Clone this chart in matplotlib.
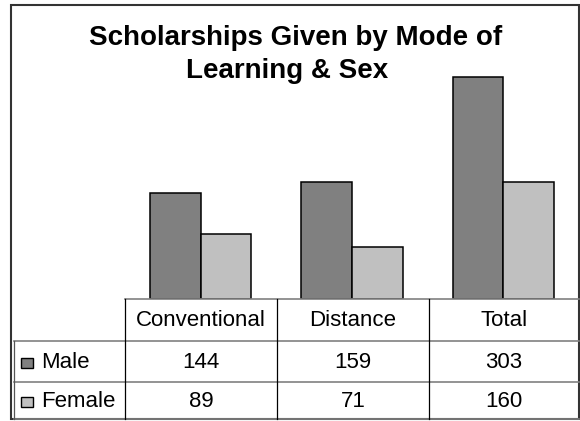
import matplotlib.pyplot as plt
from matplotlib.patches import Rectangle

plt.rcParams.update({
    "font.family": ["Liberation Sans", "DejaVu Sans"],
})

categories = ["Conventional", "Distance", "Total"]
series = ["Male", "Female"]
male = [144, 159, 303]
female = [89, 71, 160]
colors = ["#808080", "#C0C0C0"]

W, H = 580, 421
fig = plt.figure(figsize=(W / 100, H / 100), dpi=100)

# pixel layout
plot_l, plot_r = 125, 579
base_y, top_y = 299, 42
row_y = [299, 341, 382, 419]
col_x = [125, 277, 429, 579]
lab_l = 14

ax = fig.add_axes([plot_l / W, 1 - base_y / H, (plot_r - plot_l) / W, (base_y - top_y) / H])
x = list(range(len(categories)))
bw = 0.334
ax.bar([i - bw / 2 for i in x], male, bw, color=colors[0], edgecolor="black", linewidth=1.1, zorder=3)
ax.bar([i + bw / 2 for i in x], female, bw, color=colors[1], edgecolor="black", linewidth=1.1, zorder=3)
ax.set_xlim(-0.5, len(categories) - 0.5)
ax.set_ylim(0, 350)
ax.axis("off")

# overlay in pixel coords for table, title and frame
ov = fig.add_axes([0, 0, 1, 1])
ov.set_xlim(0, W)
ov.set_ylim(H, 0)
ov.axis("off")
ov.patch.set_visible(False)

ov.text(296, 45, "Scholarships Given by Mode of", ha="center", va="baseline",
        fontsize=20, fontweight="bold")
ov.text(287, 78, "Learning & Sex", ha="center", va="baseline",
        fontsize=20, fontweight="bold")

grey = "#808080"
# horizontal lines
ov.plot([plot_l, plot_r], [row_y[0], row_y[0]], color=grey, lw=1.2)
for yy in row_y[1:3]:
    ov.plot([lab_l, plot_r], [yy, yy], color=grey, lw=1.2)
ov.plot([lab_l, plot_r], [row_y[3], row_y[3]], color=grey, lw=1.2)
# vertical lines
for xx in col_x[:3]:
    ov.plot([xx, xx], [row_y[0], row_y[3]], color="black", lw=0.9)
ov.plot([lab_l, lab_l], [row_y[1], row_y[3]], color="#555555", lw=0.9)

fs = 16
for j, cat in enumerate(categories):
    cx = (col_x[j] + col_x[j + 1]) / 2
    ov.text(cx, (row_y[0] + row_y[1]) / 2 + 1, cat, ha="center", va="center", fontsize=fs)
    ov.text(cx, (row_y[1] + row_y[2]) / 2 + 1, str(male[j]), ha="center", va="center", fontsize=fs)
    ov.text(cx, (row_y[2] + row_y[3]) / 2 + 1, str(female[j]), ha="center", va="center", fontsize=fs)

for k, name in enumerate(series):
    cy = (row_y[k + 1] + row_y[k + 2]) / 2 + 1
    ov.add_patch(Rectangle((20.5, cy - 5), 12, 10.5, facecolor=colors[k], edgecolor="black", lw=1.0))
    ov.text(41, cy, name, ha="left", va="center", fontsize=fs)

# chart frame
ov.add_patch(Rectangle((11, 5), 567.5, 414, fill=False, edgecolor="#333333", lw=1.5))

fig.savefig("out.png", dpi=100)
